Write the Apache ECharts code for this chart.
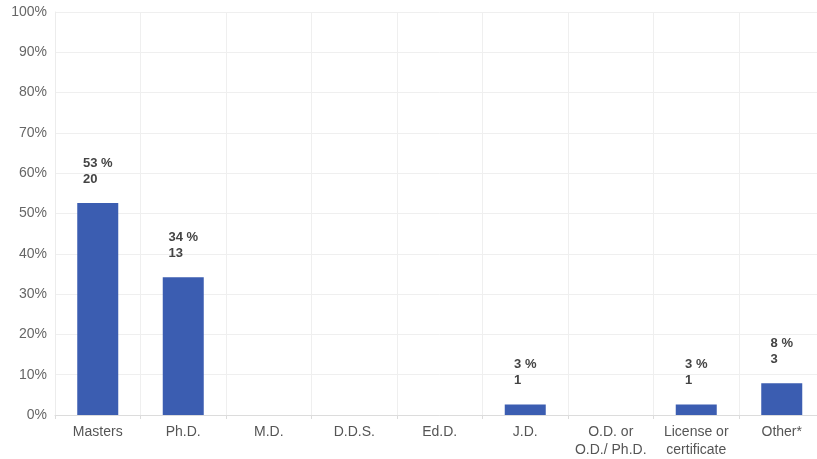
<!DOCTYPE html>
<html>
<head>
<meta charset="utf-8">
<script src="https://cdn.jsdelivr.net/npm/echarts@6/dist/echarts.min.js"></script>
<style>
html,body{margin:0;padding:0;background:#fff;overflow:hidden;width:817px;height:459px;}
#chart{width:825px;height:459px;}
</style>
</head>
<body>
<div id="chart"></div>
<script>
const categories = ['Masters', 'Ph.D.', 'M.D.', 'D.D.S.', 'Ed.D.', 'J.D.', 'O.D. or\nO.D./ Ph.D.', 'License or\ncertificate', 'Other*'];
const percentValues = [52.6, 34.2, 0, 0, 0, 2.6, 0, 2.6, 7.9];
const percentLabels = [53, 34, 0, 0, 0, 3, 0, 3, 8];
const countValues = [20, 13, 0, 0, 0, 1, 0, 1, 3];
const yTicks = [0, 10, 20, 30, 40, 50, 60, 70, 80, 90, 100];

const chart = echarts.init(document.getElementById('chart'));
chart.setOption({
  backgroundColor: '#ffffff',
  animation: false,
  grid: { left: 55, right: 0.5, top: 12, bottom: 41.5, containLabel: false },
  xAxis: {
    type: 'category',
    data: categories,
    boundaryGap: true,
    axisLine: { show: true, lineStyle: { color: '#dcdcdc', width: 1 } },
    axisTick: { show: true, length: 4, lineStyle: { color: '#dcdcdc' } },
    splitLine: { show: true, lineStyle: { color: '#efefef', width: 1 } },
    axisLabel: {
      interval: 0,
      color: '#555',
      fontSize: 14,
      fontFamily: 'Liberation Sans, Arial, sans-serif',
      lineHeight: 18,
      margin: 8
    }
  },
  yAxis: {
    type: 'value',
    min: yTicks[0],
    max: yTicks[yTicks.length - 1],
    interval: 10,
    axisLine: { show: true, lineStyle: { color: '#ececec' } },
    axisTick: { show: false },
    splitLine: { show: true, lineStyle: { color: '#efefef', width: 1 } },
    axisLabel: {
      color: '#666',
      fontSize: 14,
      fontFamily: 'Liberation Sans, Arial, sans-serif',
      margin: 8,
      formatter: v => v + '%'
    }
  },
  series: [{
    type: 'bar',
    data: percentValues,
    barWidth: 41,
    itemStyle: { color: '#3b5db1' },
    label: {
      show: true,
      position: 'top',
      distance: 16,
      align: 'center',
      formatter: p => {
        if (!percentValues[p.dataIndex]) return '';
        return '{a|' + percentLabels[p.dataIndex] + ' %}\n{a|' + countValues[p.dataIndex] + '}';
      },
      rich: {
        a: {
          align: 'left',
          fontSize: 13,
          fontWeight: 'bold',
          color: '#444',
          lineHeight: 16,
          fontFamily: 'Liberation Sans, Arial, sans-serif'
        }
      }
    }
  }]
});
</script>
</body>
</html>
